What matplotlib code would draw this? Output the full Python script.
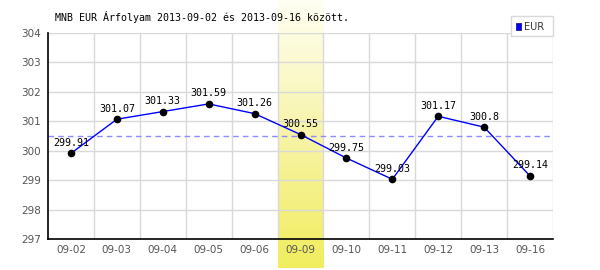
import numpy as np
import matplotlib
matplotlib.use('Agg')
import matplotlib.pyplot as plt
from matplotlib.colors import LinearSegmentedColormap
from matplotlib.patches import Rectangle

# adatok
dates = ['09-02', '09-03', '09-04', '09-05', '09-06', '09-09',
         '09-10', '09-11', '09-12', '09-13', '09-16']
rates = [299.91, 301.07, 301.33, 301.59, 301.26, 300.55,
         299.75, 299.03, 301.17, 300.8, 299.14]
highlight = '09-09'
title = 'MNB EUR Árfolyam 2013-09-02 és 2013-09-16 között.'

fig = plt.figure(figsize=(6, 2.7), dpi=100)
ax = fig.add_axes([0.08, 0.1148, 0.8417, 0.763])
x = np.arange(len(dates))

ax.set_xlim(-0.5, len(dates) - 0.5)
ax.set_ylim(297, 304)

# kiemelt nap sárga színátmenettel
hi = dates.index(highlight)
cmap = LinearSegmentedColormap.from_list('hl', ['#f1ed5e', '#f7f4a8', '#fffff4'])
grad = np.linspace(0, 1, 256).reshape(-1, 1)
ax.imshow(grad, cmap=cmap, aspect='auto', origin='lower',
          extent=(hi - 0.5, hi + 0.5, 296.0, 305.12), clip_on=False, zorder=0)

# rács
for xv in np.arange(-0.5, len(dates), 1.0)[1:]:
    ax.axvline(xv, color='#d9d9d9', linewidth=1, zorder=1)
for yv in range(298, 305):
    ax.axhline(yv, color='#d9d9d9', linewidth=1, zorder=1)

mean = np.mean(rates)
ax.axhline(mean, color='#8c8cff', linestyle=(0, (4, 3)), linewidth=1, zorder=2)

ax.plot(x, rates, color='#0000ff', linewidth=1, zorder=3)
ax.plot(x, rates, 'o', color='black', markersize=4.5, zorder=4)
for xi, v in zip(x, rates):
    ax.annotate(f'{v:g}', (xi, v), xytext=(0, 4), textcoords='offset points',
                ha='center', va='bottom', fontsize=7.2, family='DejaVu Sans Mono',
                color='black', zorder=5)

ax.set_xticks(x)
ax.set_xticklabels(dates)
ax.set_yticks(range(297, 305))
ax.tick_params(axis='both', length=0, labelsize=7.5, colors='#555555')
ax.tick_params(axis='x', pad=4)
ax.tick_params(axis='y', pad=5)
for sp in ['top', 'right']:
    ax.spines[sp].set_visible(False)
ax.spines['left'].set_color('black')
ax.spines['bottom'].set_color('black')
ax.spines['left'].set_linewidth(1.2)
ax.spines['bottom'].set_linewidth(1.2)
ax.set_facecolor('none')

fig.text(0.092, 0.937, title, fontsize=7.2, family='DejaVu Sans Mono',
         ha='left', va='center', color='black')

# jelmagyarázat
fig.patches.append(Rectangle((511 / 600, 1 - 36 / 270), 42 / 600, 20 / 270,
                             transform=fig.transFigure, facecolor='white',
                             edgecolor='#d9d9d9', linewidth=1))
fig.patches.append(Rectangle((516 / 600, 1 - 29.5 / 270), 5 / 600, 6 / 270,
                             transform=fig.transFigure, facecolor='#0000ff',
                             edgecolor='#000080', linewidth=0.5))
fig.text(524 / 600, 1 - 26.5 / 270, 'EUR', fontsize=7, color='#333333',
         ha='left', va='center')

plt.savefig('out.png', dpi=100)
plt.close()
